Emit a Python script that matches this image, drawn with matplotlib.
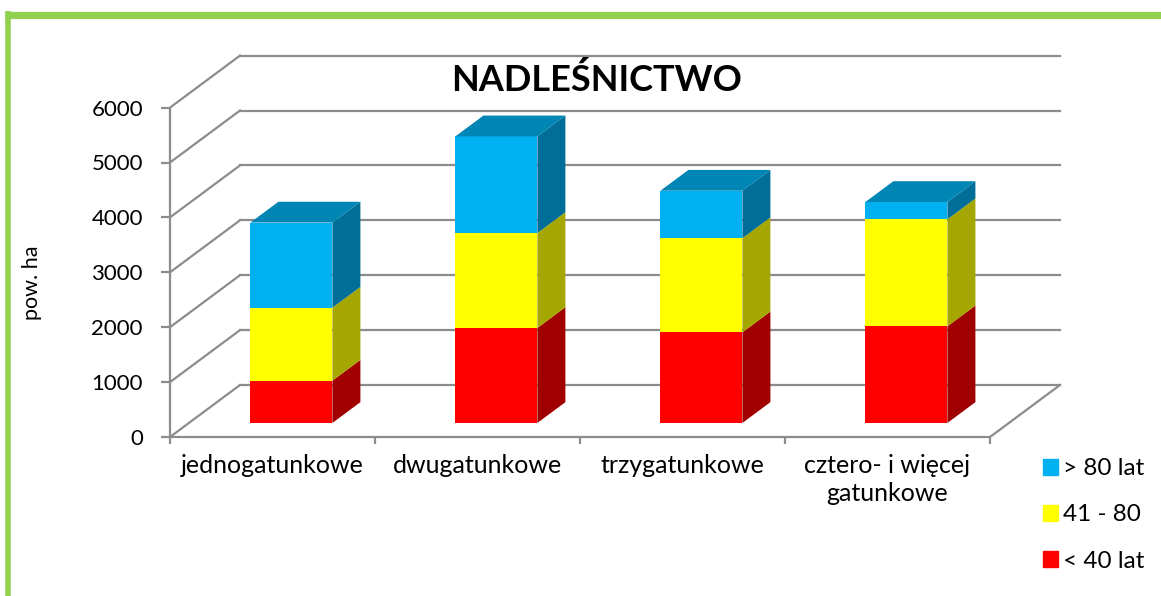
import numpy as np
import matplotlib.pyplot as plt
from matplotlib.patches import Polygon, Patch
from matplotlib.lines import Line2D

categories = ['jednogatunkowe', 'dwugatunkowe', 'trzygatunkowe', 'cztero- i więcej\ngatunkowe']
young = [770, 1730, 1650, 1760]      # < 40 lat
middle = [1330, 1730, 1715, 1950]    # 41 - 80
old = [1550, 1760, 865, 315]         # > 80 lat
series = [young, middle, old]
series_labels = ['< 40 lat', '41 - 80', '> 80 lat']
front_colors = ['#FF0000', '#FFFF00', '#00B0F0']
side_colors = ['#A00000', '#A6A600', '#006E98']
top_color = '#0086B4'
y_ticks = [0, 1000, 2000, 3000, 4000, 5000, 6000]

W, H = 1161, 596
PX_CAT = 205.0          # pixels per category
PX_VAL = 0.0549         # pixels per value unit
DX = 70 / PX_CAT        # depth shift (category units)
DY = 52 / PX_VAL        # depth shift (value units)
D0, D1 = 0.27, 0.67     # bar depth range
BAR_W = 0.40
GRID = '#8C8C8C'

plt.rcParams['font.family'] = ['Lato', 'DejaVu Sans']

fig = plt.figure(figsize=(W / 100, H / 100), dpi=100)
ax = fig.add_axes([170 / W, (H - 437) / H, (W - 170) / W, 437 / H])
ax.set_xlim(0, (W - 170) / PX_CAT)
ax.set_ylim(0, 437 / PX_VAL)
ax.patch.set_visible(False)

for s in ['top', 'right']:
    ax.spines[s].set_visible(False)
ax.spines['left'].set_bounds(0, y_ticks[-1])
ax.spines['bottom'].set_bounds(0, len(categories))
for s in ['left', 'bottom']:
    ax.spines[s].set_color(GRID)
    ax.spines[s].set_linewidth(1.6)

ax.set_yticks(y_ticks)
ax.tick_params(axis='y', length=6.5, width=1.6, color=GRID, pad=13, labelsize=16)
ax.set_xticks(np.arange(len(categories) + 1))
ax.set_xticklabels([])
ax.tick_params(axis='x', which='major', length=5, width=1.6, color=GRID)
ax.set_xticks(np.arange(len(categories)) + 0.5, minor=True)
ax.set_xticklabels(categories, minor=True)
ax.tick_params(axis='x', which='minor', length=0, pad=12, labelsize=18)
for lab in ax.get_xticklabels(minor=True):
    lab.set_linespacing(1.3)
    lab.set_verticalalignment('top')

# walls and floor
n = len(categories)
for v in y_ticks:
    ax.plot([DX, n + DX], [v + DY, v + DY], color=GRID, lw=1.6, zorder=1)
    ax.plot([0, DX], [v, v + DY], color=GRID, lw=1.6, zorder=1)
ax.plot([n, n + DX], [0, DY], color=GRID, lw=1.6, zorder=1)

# 3d stacked bars
ddx = (D1 - D0) * DX
ddy = (D1 - D0) * DY
bottoms = np.zeros(n)
for k, vals in enumerate(series):
    for i, v in enumerate(vals):
        x0 = i + 0.5 - BAR_W / 2 + D0 * DX
        x1 = x0 + BAR_W
        b = bottoms[i] + D0 * DY
        ax.bar(x0, v, width=BAR_W, bottom=b, align='edge', color=front_colors[k],
               edgecolor='none', zorder=3)
        side = [(x1, b), (x1 + ddx, b + ddy), (x1 + ddx, b + v + ddy), (x1, b + v)]
        ax.add_patch(Polygon(side, closed=True, facecolor=side_colors[k],
                             edgecolor='none', zorder=3))
        if k == len(series) - 1:
            top = [(x0, b + v), (x1, b + v), (x1 + ddx, b + v + ddy), (x0 + ddx, b + v + ddy)]
            ax.add_patch(Polygon(top, closed=True, facecolor=top_color,
                                 edgecolor='none', zorder=3))
    bottoms += np.array(vals)

fig.text(597 / W, 1 - 80 / H, 'NADLEŚNICTWO', ha='center', va='center',
         fontsize=26, fontweight='bold')
fig.text(32 / W, 1 - 283 / H, 'pow. ha', ha='center', va='center',
         rotation=90, fontsize=15.5)

handles = [Patch(color=front_colors[k], label=series_labels[k]) for k in [2, 1, 0]]
fig.legend(handles=handles, loc='upper left', bbox_to_anchor=(1024 / W, 1 - 439 / H),
           frameon=False, fontsize=17.5, handlelength=0.6, handleheight=0.6,
           labelspacing=1.03, handletextpad=0.2, borderpad=0.3)

# green frame
green = '#92D050'
fig.add_artist(Line2D([5 / W, 1], [1 - 14.5 / H] * 2, transform=fig.transFigure,
                      color=green, lw=5.2, solid_capstyle='butt'))
fig.add_artist(Line2D([7.5 / W] * 2, [0, 1 - 11 / H], transform=fig.transFigure,
                      color=green, lw=4, solid_capstyle='butt'))

fig.savefig('out.png', dpi=100)
